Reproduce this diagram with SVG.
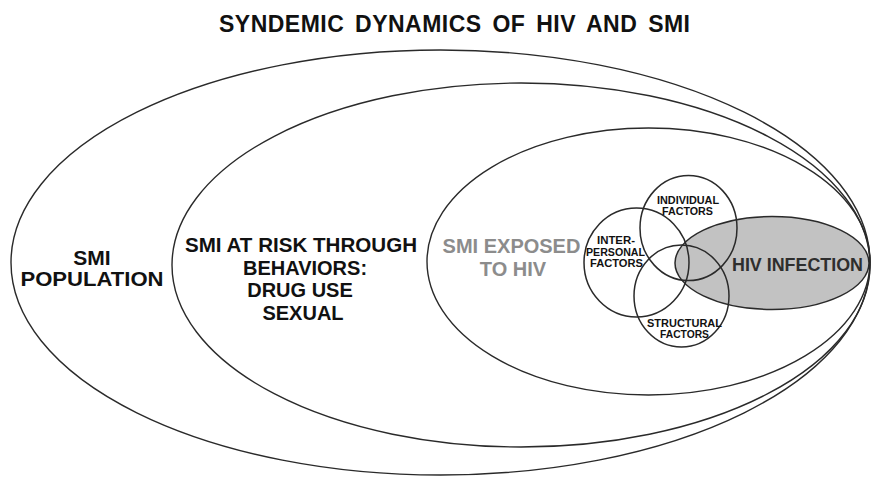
<svg xmlns="http://www.w3.org/2000/svg" width="873" height="478" viewBox="0 0 873 478">
<style>
.ring{fill:none;stroke:#2a2a2a;stroke-width:1.4}
.small{fill:none;stroke:#2a2a2a;stroke-width:1.5}
.lbl{font-family:"Liberation Sans",Arial,sans-serif;font-weight:bold;fill:#111;text-anchor:middle}
.big{font-size:20px}
.sm{font-size:11.5px}
</style>
<rect width="873" height="478" fill="#ffffff"/>
<text class="lbl" x="454.5" y="31.5" font-size="23" word-spacing="4" textLength="471" lengthAdjust="spacing">SYNDEMIC DYNAMICS OF HIV AND SMI</text>
<g id="smi-population">
<ellipse class="ring" cx="440.5" cy="262.5" rx="429.5" ry="212.5"/>
<text class="lbl" font-size="21" x="92" y="265">SMI</text>
<text class="lbl" font-size="21" x="92" y="286" textLength="143" lengthAdjust="spacingAndGlyphs">POPULATION</text>
</g>
<g id="smi-at-risk">
<ellipse class="ring" cx="521" cy="265" rx="349" ry="182" stroke-width="1.7"/>
<text class="lbl big" x="301" y="252" textLength="232" lengthAdjust="spacingAndGlyphs">SMI AT RISK THROUGH</text>
<text class="lbl big" x="305" y="274.5">BEHAVIORS:</text>
<text class="lbl big" x="300" y="297">DRUG USE</text>
<text class="lbl big" x="303" y="320">SEXUAL</text>
</g>
<g id="smi-exposed">
<ellipse class="ring" cx="648.5" cy="261.5" rx="221.5" ry="133.5"/>
<text class="lbl big" x="511.5" y="253" style="fill:#8c8c8c">SMI EXPOSED</text>
<text class="lbl big" x="513" y="276" style="fill:#8c8c8c">TO HIV</text>
</g>
<g id="hiv-infection">
<ellipse cx="772" cy="263" rx="97" ry="46.5" fill="#c2c2c2" stroke="#2a2a2a" stroke-width="1.5"/>
<text class="lbl" font-size="18.5" x="797.5" y="271" textLength="131" lengthAdjust="spacingAndGlyphs" style="fill:#2e2e2e">HIV INFECTION</text>
</g>
<g id="individual-factors">
<ellipse class="small" cx="688.5" cy="228" rx="48.5" ry="52.5"/>
<text class="lbl sm" x="688" y="203.5" textLength="62" lengthAdjust="spacingAndGlyphs">INDIVIDUAL</text>
<text class="lbl sm" x="687.5" y="215" textLength="51" lengthAdjust="spacingAndGlyphs">FACTORS</text>
</g>
<g id="interpersonal-factors">
<ellipse class="small" cx="636.5" cy="262.5" rx="52.5" ry="54.5"/>
<text class="lbl sm" x="616" y="244" textLength="38" lengthAdjust="spacingAndGlyphs">INTER-</text>
<text class="lbl sm" x="615.5" y="255.5" textLength="59" lengthAdjust="spacingAndGlyphs">PERSONAL</text>
<text class="lbl sm" x="616.5" y="267" textLength="53" lengthAdjust="spacingAndGlyphs">FACTORS</text>
</g>
<g id="structural-factors">
<ellipse class="small" cx="681.5" cy="296" rx="47.5" ry="51"/>
<text class="lbl sm" x="684.5" y="327" textLength="75" lengthAdjust="spacingAndGlyphs">STRUCTURAL</text>
<text class="lbl sm" x="684.5" y="338" textLength="49" lengthAdjust="spacingAndGlyphs">FACTORS</text>
</g>
<g id="connectors"/>
</svg>
